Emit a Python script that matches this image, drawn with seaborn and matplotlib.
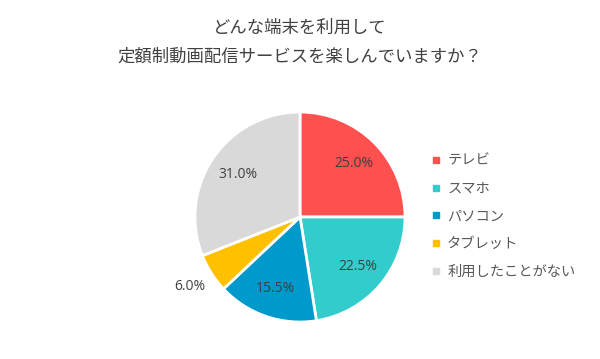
import matplotlib
matplotlib.use("Agg")
import matplotlib.pyplot as plt
import seaborn as sns
import numpy as np
from matplotlib.lines import Line2D

categories = ["テレビ", "スマホ", "パソコン", "タブレット", "利用したことがない"]
values = [25.0, 22.5, 15.5, 6.0, 31.0]
colors = ["#FF5050", "#33CCCC", "#0099CC", "#FFC000", "#D9D9D9"]
title_lines = ["どんな端末を利用して", "定額制動画配信サービスを楽しんでいますか？"]

sns.set_style("white")
plt.rcParams["font.family"] = ["Noto Sans CJK JP", "DejaVu Sans"]

W, H = 600, 359
fig = plt.figure(figsize=(W / 100, H / 100), dpi=100)
fig.patch.set_facecolor("white")

cx, cy, r = 300, 217, 105
ax = fig.add_axes([(cx - r) / W, (H - cy - r) / H, 2 * r / W, 2 * r / H])
wedges, texts = ax.pie(
    values, colors=colors, startangle=90, counterclock=False,
    wedgeprops=dict(edgecolor="white", linewidth=2), radius=1,
)
ax.set_xlim(-1, 1)
ax.set_ylim(-1, 1)
ax.set_aspect("equal")
ax.axis("off")

cum = 0
for v in values:
    mid = (cum + v / 2) / 100 * 2 * np.pi
    dist = 1.24 if v < 10 else 0.72
    x = dist * np.sin(mid)
    y = dist * np.cos(mid)
    ax.text(x, y, f"{v:.1f}%", ha="center", va="center", fontsize=10,
            color="#404040", family=["Open Sans", "DejaVu Sans"], clip_on=False)
    cum += v

fig.text(0.5, 1 - 28 / H, title_lines[0], ha="center", va="center",
         fontsize=12.5, color="#404040")
fig.text(0.5, 1 - 57 / H, title_lines[1], ha="center", va="center",
         fontsize=12.5, color="#404040")

handles = [Line2D([0], [0], marker="s", linestyle="none", markersize=5,
                  markerfacecolor=c, markeredgecolor=c) for c in colors]
fig.legend(handles, categories, loc="center left",
           bbox_to_anchor=(430 / W, 1 - 216.5 / H), frameon=False,
           fontsize=10.3, labelcolor="#595959", handlelength=0.8,
           handletextpad=0.4, labelspacing=0.97, borderpad=0, borderaxespad=0)

fig.savefig("out.png", dpi=100, facecolor="white")
